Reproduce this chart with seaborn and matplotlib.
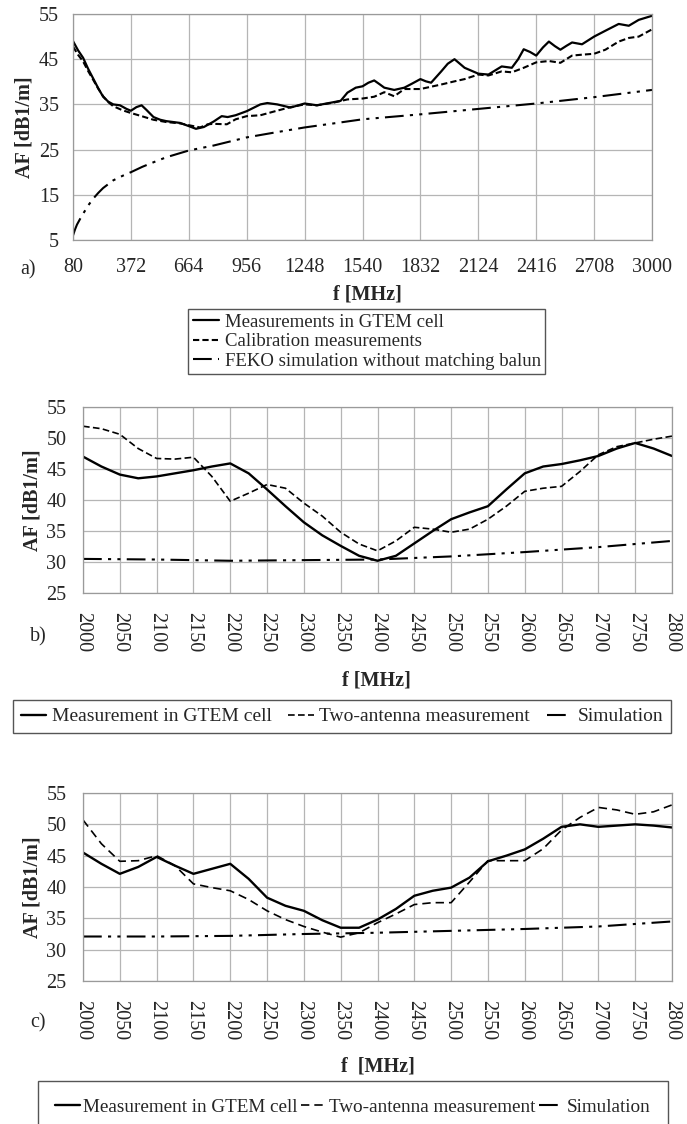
import numpy as np
import pandas as pd
import matplotlib
matplotlib.use("Agg")
import matplotlib.pyplot as plt
import seaborn as sns

# panel a) 80 - 3000 MHz
f_a_meas = [80, 105, 131, 156, 181, 207, 232, 258, 283, 317, 350, 372, 400, 426, 450, 486,
            520, 550, 620, 664, 700, 740, 789, 830, 860, 900, 956, 1025, 1060, 1110, 1177,
            1248, 1310, 1395, 1430, 1464, 1506, 1540, 1570, 1599, 1625, 1650, 1700, 1751,
            1790, 1832, 1860, 1886, 1937, 1970, 2004, 2055, 2124, 2175, 2242, 2293, 2325,
            2353, 2385, 2416, 2450, 2480, 2510, 2538, 2570, 2597, 2647, 2708, 2765, 2832,
            2883, 2933, 3000]
af_a_meas = [49.0, 47.0, 45.3, 42.9, 40.8, 38.6, 36.7, 35.6, 35.0, 34.8, 34.0, 33.6, 34.4,
             34.8, 33.8, 32.2, 31.6, 31.3, 30.9, 30.2, 29.6, 30.0, 31.2, 32.4, 32.2, 32.6,
             33.5, 35.0, 35.3, 35.0, 34.3, 35.2, 34.8, 35.5, 35.8, 37.6, 38.7, 39.0, 39.8,
             40.3, 39.5, 38.7, 38.2, 38.7, 39.6, 40.6, 40.1, 39.8, 42.3, 44.0, 45.0, 43.1,
             41.8, 41.6, 43.4, 43.1, 45.0, 47.2, 46.6, 45.8, 47.6, 48.9, 47.9, 47.1, 48.0,
             48.7, 48.3, 50.0, 51.3, 52.8, 52.4, 53.7, 54.6]

f_a_cal = [80, 105, 131, 156, 181, 207, 232, 258, 283, 330, 372, 426, 486, 550, 620, 664,
           721, 760, 789, 856, 900, 956, 1025, 1100, 1177, 1248, 1310, 1395, 1464, 1540,
           1599, 1650, 1700, 1751, 1832, 1937, 2004, 2055, 2124, 2175, 2242, 2293, 2353,
           2416, 2480, 2538, 2597, 2647, 2708, 2765, 2832, 2883, 2933, 3000]
af_a_cal = [47.8, 46.0, 44.5, 42.4, 40.5, 38.5, 36.8, 35.5, 34.6, 33.7, 33.1, 32.4, 31.6,
            31.1, 30.8, 30.4, 29.9, 30.6, 30.7, 30.6, 31.7, 32.4, 32.6, 33.5, 34.4, 35.0,
            34.8, 35.4, 36.1, 36.3, 36.7, 37.7, 36.8, 38.4, 38.4, 39.4, 40.1, 40.6, 41.6,
            41.4, 42.3, 42.1, 43.1, 44.3, 44.6, 44.2, 45.8, 46.0, 46.2, 47.1, 48.9, 49.7,
            50.0, 51.6]

f_a_sim = [80, 90, 100, 115, 131, 156, 181, 207, 232, 283, 330, 372, 430, 486, 550, 664,
           789, 956, 1100, 1248, 1395, 1540, 1832, 2124, 2416, 2708, 3000]
af_a_sim = [6.0, 7.3, 8.4, 9.6, 10.8, 12.6, 14.1, 15.4, 16.5, 18.2, 19.2, 20.0, 21.2, 22.2,
            23.3, 24.8, 25.9, 27.7, 28.8, 29.9, 30.8, 31.7, 32.8, 34.0, 35.2, 36.6, 38.2]

xticks_a = [80, 372, 664, 956, 1248, 1540, 1832, 2124, 2416, 2708, 3000]
yticks_a = [5, 15, 25, 35, 45, 55]
labels_a = ["Measurements in GTEM cell", "Calibration measurements",
            "FEKO simulation without matching balun"]

# panel b) 2000 - 2800 MHz
f_b = [2000, 2025, 2050, 2075, 2100, 2125, 2150, 2175, 2200, 2225, 2250, 2275, 2300, 2325,
       2350, 2375, 2400, 2425, 2450, 2475, 2500, 2525, 2550, 2575, 2600, 2625, 2650, 2675,
       2700, 2725, 2750, 2775, 2800]
af_b_meas = [47.0, 45.4, 44.1, 43.5, 43.8, 44.3, 44.8, 45.4, 45.9, 44.3, 41.7, 39.0, 36.4,
             34.3, 32.6, 31.0, 30.2, 31.0, 33.0, 35.0, 36.9, 38.0, 39.0, 41.7, 44.3, 45.4,
             45.8, 46.4, 47.1, 48.3, 49.2, 48.3, 47.1]
af_b_two = [51.9, 51.5, 50.6, 48.3, 46.7, 46.6, 46.9, 43.8, 39.8, 41.1, 42.5, 41.9, 39.5,
            37.4, 34.8, 32.9, 31.8, 33.4, 35.6, 35.3, 34.8, 35.3, 36.9, 39.0, 41.4, 41.9,
            42.2, 44.6, 47.3, 48.6, 49.2, 49.8, 50.3]
f_b_sim = [2000, 2100, 2200, 2300, 2400, 2500, 2600, 2700, 2800]
af_b_sim = [30.5, 30.4, 30.2, 30.3, 30.4, 30.9, 31.6, 32.4, 33.4]

# panel c) 2000 - 2800 MHz
f_c = [2000, 2025, 2050, 2075, 2100, 2125, 2150, 2175, 2200, 2225, 2250, 2275, 2300, 2325,
       2350, 2375, 2400, 2425, 2450, 2475, 2500, 2525, 2550, 2575, 2600, 2625, 2650, 2675,
       2700, 2725, 2750, 2775, 2800]
af_c_meas = [45.5, 43.7, 42.1, 43.2, 44.8, 43.4, 42.1, 42.9, 43.7, 41.3, 38.3, 37.0, 36.2,
             34.7, 33.5, 33.5, 34.8, 36.5, 38.6, 39.4, 39.9, 41.5, 44.1, 45.0, 46.0, 47.7,
             49.6, 50.0, 49.6, 49.8, 50.0, 49.8, 49.5]
af_c_two = [50.7, 46.9, 44.1, 44.2, 45.0, 43.4, 40.5, 39.9, 39.4, 38.0, 36.2, 34.8, 33.7,
            32.8, 32.0, 32.7, 34.3, 35.7, 37.2, 37.5, 37.5, 40.8, 44.2, 44.2, 44.2, 46.1,
            49.1, 51.1, 52.7, 52.3, 51.6, 52.0, 53.1]
f_c_sim = [2000, 2100, 2200, 2300, 2400, 2500, 2600, 2700, 2800]
af_c_sim = [32.1, 32.1, 32.2, 32.5, 32.7, 33.0, 33.3, 33.7, 34.5]

xticks_bc = list(range(2000, 2801, 50))
yticks_bc = [25, 30, 35, 40, 45, 50, 55]
labels_bc = ["Measurement in GTEM cell", "Two-antenna measurement", "Simulation"]

sns.set_style("white")
plt.rcParams["font.family"] = ["Liberation Serif", "DejaVu Serif"]

W, H = 687, 1124
fig = plt.figure(figsize=(W / 100, H / 100), dpi=100)


def axes_px(left, top, right, bottom):
    return fig.add_axes([left / W, 1 - bottom / H, (right - left) / W, (bottom - top) / H])


def style_axes(ax, ticks_out):
    ax.grid(True, color="#b5b5b5", linewidth=0.9)
    for s in ax.spines.values():
        s.set_color("#9a9a9a")
        s.set_linewidth(0.9)
    if ticks_out:
        ax.tick_params(length=5, color="#9a9a9a", width=0.9, labelsize=14.5, pad=5)
        ax.tick_params(axis="x", pad=8)
    else:
        ax.tick_params(length=0, labelsize=14.5)
        ax.tick_params(axis="y", pad=12)
        ax.tick_params(axis="x", pad=14, labelrotation=-90)
    ax.set_xlabel("")
    ax.set_ylabel("AF [dB1/m]", fontsize=14.5, fontweight="bold", labelpad=3)


def draw(ax, x, y, ls, lw, label):
    sns.lineplot(x=x, y=y, ax=ax, color="black", linestyle=ls, linewidth=lw,
                 label=label, errorbar=None, sort=True)


simdash = (0, (9, 3, 1.5, 3, 1.5, 3))

# a)
ax1 = axes_px(73, 14, 652, 240)
draw(ax1, f_a_meas, af_a_meas, "-", 1.6, labels_a[0])
draw(ax1, f_a_cal, af_a_cal, (0, (3, 1.5)), 1.5, labels_a[1])
draw(ax1, f_a_sim, af_a_sim, simdash, 1.5, labels_a[2])
ax1.set_xlim(80, 3000)
ax1.set_ylim(5, 55)
ax1.set_xticks(xticks_a)
ax1.set_yticks(yticks_a)
style_axes(ax1, True)
ax1.get_legend().remove()
fig.legend(ax1.get_lines()[:3], labels_a, loc="upper left",
           bbox_to_anchor=(188 / W, 1 - 309 / H), fontsize=13.5, frameon=True,
           fancybox=False, edgecolor="#555555", framealpha=1, handlelength=1.4,
           handletextpad=0.3, labelspacing=0.12, borderpad=0.25, borderaxespad=0)
fig.text(28 / W, 1 - 270 / H, "a)", fontsize=14.5, ha="center", va="center")
fig.text(367 / W, 1 - 294 / H, "f [MHz]", fontsize=14.5, fontweight="bold",
         ha="center", va="center")

# b)
ax2 = axes_px(83, 407, 672, 593)
draw(ax2, f_b, af_b_meas, "-", 1.7, labels_bc[0])
draw(ax2, f_b, af_b_two, (0, (4, 2)), 1.2, labels_bc[1])
draw(ax2, f_b_sim, af_b_sim, simdash, 1.5, labels_bc[2])
ax2.set_xlim(2000, 2800)
ax2.set_ylim(25, 55)
ax2.set_xticks(xticks_bc)
ax2.set_yticks(yticks_bc)
style_axes(ax2, False)
ax2.get_legend().remove()
fig.legend(ax2.get_lines()[:3], labels_bc, loc="upper left", ncol=3,
           bbox_to_anchor=(13 / W, 1 - 700 / H), fontsize=14, frameon=True,
           fancybox=False, edgecolor="#555555", framealpha=1, handlelength=1.3,
           handletextpad=0.3, columnspacing=0.85, borderpad=0.4, borderaxespad=0)
fig.text(38 / W, 1 - 637 / H, "b)", fontsize=14.5, ha="center", va="center")
fig.text(376 / W, 1 - 681 / H, "f [MHz]", fontsize=14.5, fontweight="bold",
         ha="center", va="center")

# c)
ax3 = axes_px(83, 793, 672, 981)
draw(ax3, f_c, af_c_meas, "-", 1.7, labels_bc[0])
draw(ax3, f_c, af_c_two, (0, (5, 3)), 1.2, labels_bc[1])
draw(ax3, f_c_sim, af_c_sim, simdash, 1.5, labels_bc[2])
ax3.set_xlim(2000, 2800)
ax3.set_ylim(25, 55)
ax3.set_xticks(xticks_bc)
ax3.set_yticks(yticks_bc)
style_axes(ax3, False)
ax3.get_legend().remove()
fig.legend(ax3.get_lines()[:3], labels_bc, loc="upper left", ncol=3,
           bbox_to_anchor=(38 / W, 1 - 1081 / H), fontsize=13.8, frameon=True,
           fancybox=False, edgecolor="#555555", framealpha=1, handlelength=1.3,
           handletextpad=0.15, columnspacing=0.2, borderpad=0.9, borderaxespad=0)
fig.text(38 / W, 1 - 1023 / H, "c)", fontsize=14.5, ha="center", va="center")
fig.text(378 / W, 1 - 1066 / H, "f  [MHz]", fontsize=14.5, fontweight="bold",
         ha="center", va="center")

fig.savefig("out.png", dpi=100)
